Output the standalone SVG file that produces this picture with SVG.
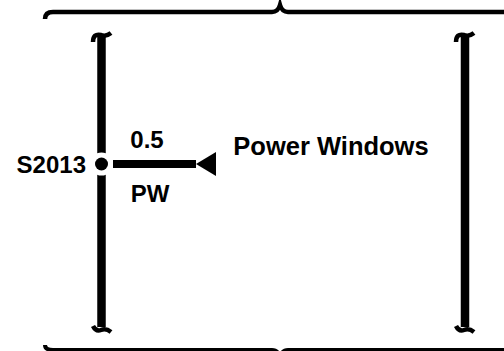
<svg xmlns="http://www.w3.org/2000/svg" width="504" height="351" viewBox="0 0 504 351">
<style>
.t{font-family:"Liberation Sans",Arial,sans-serif;font-weight:bold;fill:#000}
.ln{fill:none;stroke:#000;stroke-linecap:butt}
</style>
<defs>
<marker id="arr" viewBox="0 0 20 24" refX="0" refY="12" markerWidth="20" markerHeight="24" markerUnits="userSpaceOnUse" orient="auto">
<path d="M0,12 L20,0 L20,24 Z" fill="#000"/>
</marker>
</defs>
<rect width="504" height="351" fill="#fff"/>
<g id="brace-top">
<path class="ln" stroke-width="4.5" d="M45,19 Q45,12 53,12 L272,12 Q278,12 280,5 Q282,12 288,12 L510,12"/>
</g>
<g id="brace-bottom">
<path class="ln" stroke-width="4" d="M45,345 Q45,350 53,350 L272,350 Q278,350 280,357 Q282,350 288,350 L510,350"/>
</g>
<g id="bar-left">
<path class="ln" stroke-width="8.5" d="M101.5,36 L101.5,327"/>
<path class="ln" stroke-width="4.5" d="M93,42 Q93,33 101,35 Q106,37 111,33"/>
<path class="ln" stroke-width="4.5" d="M93,326 Q96,332 101,330 Q106,328 111,332"/>
</g>
<g id="bar-right">
<path class="ln" stroke-width="8.5" d="M465,36 L465,327"/>
<path class="ln" stroke-width="4.5" d="M456,42 Q456,33 464,35 Q469,37 474,33"/>
<path class="ln" stroke-width="4.5" d="M456,326 Q459,332 464,330 Q469,328 474,332"/>
</g>
<g id="connectors">
<path class="ln" stroke-width="8" d="M113,164 L196,164" marker-end="url(#arr)"/>
</g>
<g id="S2013">
<circle cx="101.5" cy="164" r="11.5" fill="#fff"/>
<circle cx="101.5" cy="164" r="6.5" fill="#000"/>
<text class="t" x="86" y="173" font-size="24" text-anchor="end">S2013</text>
</g>
<g id="wire-labels">
<text class="t" x="147" y="148" font-size="24" text-anchor="middle">0.5</text>
<text class="t" x="150" y="202" font-size="24" text-anchor="middle">PW</text>
</g>
<g id="power-windows">
<text class="t" x="331" y="155" font-size="25.5" text-anchor="middle">Power Windows</text>
</g>
</svg>
